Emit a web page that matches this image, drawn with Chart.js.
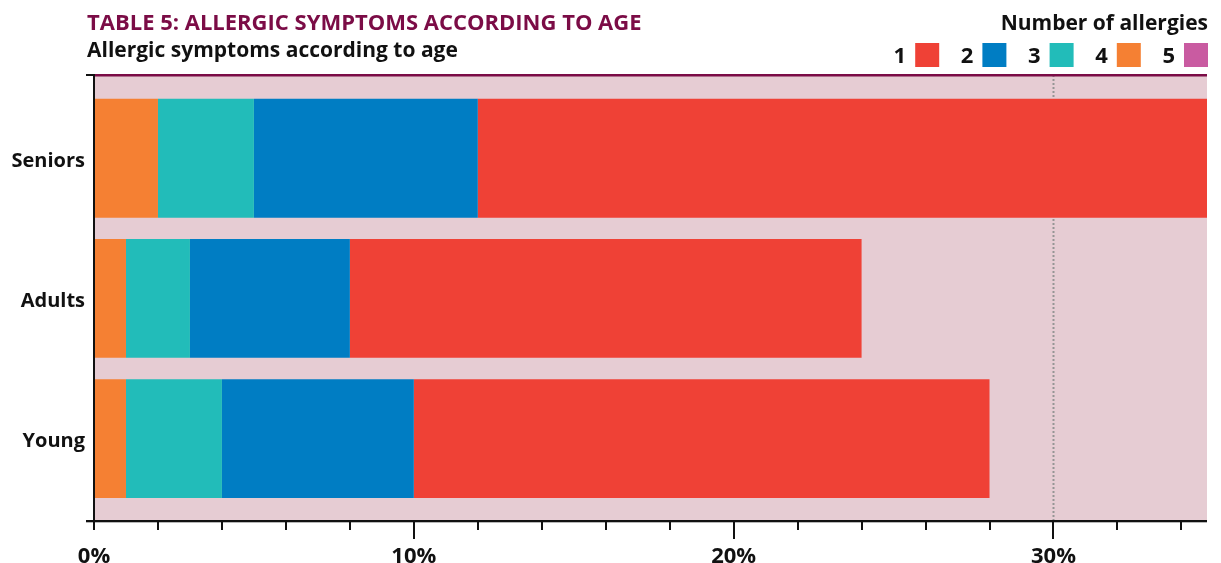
<!DOCTYPE html>
<html>
<head>
<meta charset="utf-8">
<script src="https://cdn.jsdelivr.net/npm/chart.js@4.4.1/dist/chart.umd.min.js"></script>
<style>
  html, body { margin: 0; padding: 0; background: #ffffff; }
  #wrap { position: relative; width: 1221px; height: 563px; }
</style>
</head>
<body>
<div id="wrap"><canvas id="c"></canvas></div>
<script>
// ---- data ----
const categories = ['Seniors', 'Adults', 'Young'];
const seriesNames = ['1', '2', '3', '4', '5'];
const series1 = [23, 16, 18];   // 1 allergy
const series2 = [7, 5, 6];      // 2 allergies
const series3 = [3, 2, 3];      // 3 allergies
const series4 = [2, 1, 1];      // 4 allergies
const series5 = [0, 0, 0];      // 5 allergies
const xTickValues = [0, 10, 20, 30];
const titleText = 'TABLE 5: ALLERGIC SYMPTOMS ACCORDING TO AGE';
const subtitleText = 'Allergic symptoms according to age';
const legendTitle = 'Number of allergies';

const colors = {
  '1': '#ef4136', '2': '#007dc3', '3': '#22bcb9', '4': '#f58033', '5': '#c95ba1'
};
const FONT = '"Open Sans", Lato, sans-serif';

function toPoints(arr) { return arr.map((v, i) => ({ x: v, y: i })); }

// stacking order: 4 innermost, then 3, 2, 1; 5 last
const stackOrder = [
  { name: '4', vals: series4 },
  { name: '3', vals: series3 },
  { name: '2', vals: series2 },
  { name: '1', vals: series1 },
  { name: '5', vals: series5 }
];

const datasets = stackOrder.map(s => ({
  label: s.name,
  data: toPoints(s.vals),
  backgroundColor: colors[s.name],
  borderWidth: 0,
  barPercentage: 0.848,
  categoryPercentage: 1.0
}));

const decor = {
  id: 'decor',
  beforeDraw(chart) {
    const { ctx, chartArea: a } = chart;
    ctx.save();
    ctx.fillStyle = '#e6ccd3';
    ctx.fillRect(a.left, a.top, a.right - a.left, a.bottom - a.top);
    // dotted line at 30%
    const xs = chart.scales.x;
    const px = Math.round(xs.getPixelForValue(30)) + 0.5;
    ctx.strokeStyle = '#959595';
    ctx.lineWidth = 2;
    ctx.setLineDash([2, 2]);
    ctx.beginPath();
    ctx.moveTo(px, a.top);
    ctx.lineTo(px, a.bottom);
    ctx.stroke();
    ctx.restore();
  },
  afterDraw(chart) {
    const { ctx, chartArea: a } = chart;
    const xs = chart.scales.x;
    ctx.save();
    // maroon top line
    ctx.fillStyle = '#7b0c46';
    ctx.fillRect(a.left, a.top - 1, a.right - a.left, 2.5);
    // axes
    ctx.fillStyle = '#111111';
    ctx.fillRect(a.left - 1, a.top - 1, 2, a.bottom - a.top + 2);      // y axis
    ctx.fillRect(a.left - 8, a.top - 1, 8, 2);                         // top tick
    ctx.fillRect(a.left - 8, a.bottom - 1, a.right - a.left + 8, 2.3); // x axis
    // x ticks
    for (let v = 0; v <= xs.max; v += 2) {
      const p = xs.getPixelForValue(v);
      const len = (v % 10 === 0 && v !== 0) ? 18 : 9;
      ctx.fillRect(Math.round(p) - 1, a.bottom, 2, len);
    }
    // title & subtitle
    ctx.textBaseline = 'alphabetic';
    ctx.textAlign = 'left';
    ctx.fillStyle = '#7b0c46';
    ctx.font = 'bold 22px ' + FONT;
    ctx.fillText(titleText, 87, 30);
    ctx.fillStyle = '#111111';
    ctx.font = 'bold 21px ' + FONT;
    ctx.fillText(subtitleText, 87, 57);
    // legend
    ctx.textAlign = 'right';
    ctx.font = 'bold 21px ' + FONT;
    ctx.fillText(legendTitle, 1208, 30);
    const box = 24, step = 67.2;
    for (let i = 0; i < seriesNames.length; i++) {
      const n = seriesNames[i];
      const bx = 1184 - (seriesNames.length - 1 - i) * step;
      ctx.fillStyle = colors[n];
      ctx.fillRect(bx, 43, box, box);
      ctx.fillStyle = '#111111';
      ctx.font = 'bold 22px ' + FONT;
      ctx.fillText(n, bx - 9, 63);
    }
    ctx.restore();
  }
};

new Chart(document.getElementById('c'), {
  type: 'bar',
  data: { datasets },
  options: {
    indexAxis: 'y',
    responsive: true,
    maintainAspectRatio: false,
    animation: false,
    layout: { padding: { top: 75, right: 14, left: 0, bottom: 0 } },
    plugins: { legend: { display: false }, title: { display: false }, tooltip: { enabled: false } },
    scales: {
      x: {
        type: 'linear',
        stacked: true,
        min: 0,
        max: 34.8,
        offset: false,
        grid: { display: false, drawTicks: false },
        border: { display: false },
        afterBuildTicks(scale) { scale.ticks = xTickValues.map(v => ({ value: v })); },
        afterFit(scale) { scale.height = 42; },
        ticks: {
          padding: 23,
          color: '#111111',
          font: { family: FONT, size: 22, weight: 'bold' },
          callback: v => v + '%',
          maxRotation: 0
        }
      },
      y: {
        type: 'linear',
        stacked: true,
        reverse: true,
        offset: false,
        min: -0.594,
        max: 2.588,
        grid: { display: false, drawTicks: false, offset: false },
        border: { display: false },
        afterBuildTicks(scale) { scale.ticks = categories.map((c, i) => ({ value: i })); },
        afterFit(scale) { scale.width = 94; },
        ticks: {
          padding: 9,
          labelOffset: 3,
          color: '#111111',
          font: { family: FONT, size: 20, weight: 'bold' },
          callback: v => categories[v] !== undefined ? categories[v] : ''
        }
      }
    }
  },
  plugins: [decor]
});
</script>
</body>
</html>
